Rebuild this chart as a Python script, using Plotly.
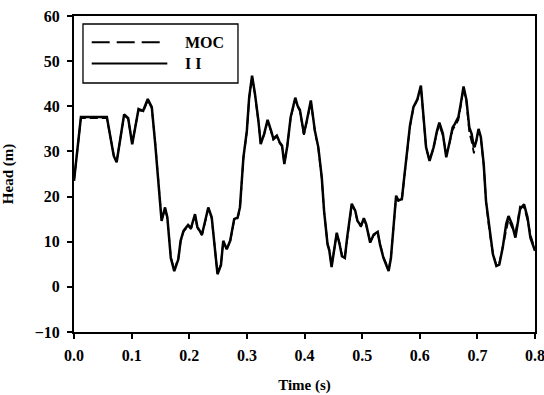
import plotly.graph_objects as go

time_s = [0.000, 0.012, 0.057, 0.069, 0.074, 0.087, 0.094, 0.101, 0.112, 0.120,
          0.128, 0.135, 0.141, 0.152, 0.158, 0.162, 0.168, 0.174, 0.181, 0.185,
          0.190, 0.198, 0.203, 0.210, 0.214, 0.222, 0.226, 0.233, 0.239, 0.244,
          0.249, 0.255, 0.259, 0.265, 0.271, 0.278, 0.284, 0.288, 0.294, 0.300,
          0.304, 0.309, 0.314, 0.320, 0.324, 0.330, 0.336, 0.342, 0.346, 0.352,
          0.357, 0.361, 0.365, 0.370, 0.376, 0.384, 0.388, 0.392, 0.399, 0.404,
          0.411, 0.418, 0.424, 0.430, 0.434, 0.440, 0.443, 0.447, 0.451, 0.456,
          0.461, 0.465, 0.470, 0.474, 0.482, 0.488, 0.492, 0.498, 0.503, 0.507,
          0.514, 0.520, 0.527, 0.531, 0.537, 0.542, 0.546, 0.550, 0.555, 0.559,
          0.563, 0.569, 0.573, 0.578, 0.583, 0.589, 0.596, 0.602, 0.606, 0.611,
          0.617, 0.624, 0.630, 0.634, 0.640, 0.646, 0.652, 0.657, 0.661, 0.667,
          0.671, 0.676, 0.681, 0.686, 0.690, 0.694, 0.698, 0.702, 0.706, 0.711,
          0.715, 0.721, 0.727, 0.733, 0.738, 0.744, 0.750, 0.754, 0.760, 0.766,
          0.770, 0.774, 0.781, 0.787, 0.792, 0.798, 0.800]

head_ii = [23.5, 37.6, 37.6, 29.0, 27.6, 38.2, 37.4, 31.6, 39.4, 39.0,
           41.6, 39.8, 31.6, 14.6, 17.6, 15.4, 6.4, 3.5, 6.1, 10.2,
           12.4, 13.7, 13.0, 16.1, 13.3, 11.6, 13.7, 17.6, 15.4, 9.4,
           2.8, 4.8, 10.2, 8.3, 10.2, 15.0, 15.4, 17.6, 28.7, 34.6,
           42.0, 46.8, 42.8, 36.8, 31.6, 33.9, 37.0, 34.6, 32.8, 33.5,
           32.0, 31.3, 27.2, 31.1, 37.6, 41.9, 40.1, 39.2, 33.9, 36.8,
           41.3, 34.6, 30.9, 24.2, 16.8, 9.4, 8.1, 4.4, 8.1, 12.0,
           9.4, 6.8, 6.4, 10.9, 18.4, 16.9, 14.6, 13.5, 15.2, 13.9,
           9.8, 11.6, 12.2, 9.4, 6.4, 4.9, 3.5, 6.4, 13.9, 20.2,
           19.1, 19.5, 24.2, 30.2, 35.7, 39.8, 41.6, 44.6, 39.0, 30.9,
           27.9, 30.9, 34.6, 36.4, 34.0, 28.7, 32.2, 35.3, 36.1, 37.6,
           40.4, 44.4, 41.4, 35.3, 33.9, 30.9, 32.2, 35.0, 33.2, 27.2,
           19.0, 12.4, 7.2, 4.6, 4.9, 8.7, 13.9, 15.7, 13.9, 10.9,
           13.9, 17.2, 18.3, 15.4, 10.9, 8.3, 8.0]

head_moc = [23.5, 37.4, 37.4, 29.2, 27.8, 38.0, 37.2, 31.8, 39.2, 38.8,
            41.3, 39.6, 31.8, 14.8, 17.3, 15.2, 6.6, 3.8, 6.3, 10.0,
            12.2, 13.5, 12.8, 15.8, 13.1, 11.4, 13.5, 17.3, 15.2, 9.6,
            3.0, 5.0, 10.0, 8.5, 10.0, 14.8, 15.2, 17.4, 28.5, 34.4,
            41.8, 46.5, 42.6, 36.6, 31.8, 33.7, 36.8, 34.4, 32.6, 33.3,
            31.8, 31.1, 27.4, 31.0, 37.4, 41.6, 39.9, 39.0, 33.7, 36.6,
            41.0, 34.4, 30.7, 24.0, 16.6, 9.6, 8.3, 4.6, 8.3, 11.8,
            9.6, 7.0, 6.6, 10.7, 18.1, 16.7, 14.4, 13.3, 15.0, 13.7,
            10.0, 11.4, 12.0, 9.6, 6.6, 5.1, 3.8, 6.6, 13.7, 20.0,
            18.9, 19.3, 24.0, 30.0, 35.5, 39.6, 41.4, 44.3, 38.8, 30.7,
            28.1, 30.7, 34.4, 35.8, 33.6, 29.4, 32.0, 34.8, 35.6, 37.0,
            40.0, 44.0, 41.0, 34.2, 32.2, 29.6, 32.4, 34.6, 33.0, 27.0,
            18.8, 12.2, 7.4, 4.8, 5.2, 8.9, 13.2, 14.9, 13.2, 12.0,
            14.6, 17.8, 17.6, 14.8, 11.6, 8.6, 8.2]

x_ticks = [0.0, 0.1, 0.2, 0.3, 0.4, 0.5, 0.6, 0.7, 0.8]
y_ticks = [-10, 0, 10, 20, 30, 40, 50, 60]

FONT = "Liberation Serif"

fig = go.Figure()
fig.add_trace(go.Scatter(x=time_s, y=head_ii, mode="lines", name="I I",
                         line=dict(color="black", width=2.5), showlegend=False))
fig.add_trace(go.Scatter(x=time_s, y=head_moc, mode="lines", name="MOC",
                         line=dict(color="black", width=1.8, dash="8px,4px"),
                         showlegend=False))

# legend drawn in paper coordinates
shapes = [
    dict(type="rect", xref="paper", yref="paper", x0=0.0195, x1=0.3557,
         y0=0.788, y1=0.9747, line=dict(color="black", width=1.3),
         fillcolor="white", layer="above"),
    dict(type="line", xref="paper", yref="paper", x0=0.0384, x1=0.1866,
         y0=0.9168, y1=0.9168, line=dict(color="black", width=2, dash="18px,7px"),
         layer="above"),
    dict(type="line", xref="paper", yref="paper", x0=0.0384, x1=0.2024,
         y0=0.850, y1=0.850, line=dict(color="black", width=2), layer="above"),
]
annotations = [
    dict(text="MOC", xref="paper", yref="paper", x=0.2365, y=0.9168,
         xanchor="left", yanchor="middle", showarrow=False,
         font=dict(family=FONT, size=16, color="black", weight="bold")),
    dict(text="I I", xref="paper", yref="paper", x=0.2365, y=0.850,
         xanchor="left", yanchor="middle", showarrow=False,
         font=dict(family=FONT, size=16, color="black", weight="bold")),
]

axis_common = dict(showline=True, linecolor="black", linewidth=2, mirror=True,
                   ticks="outside", ticklen=5, tickwidth=1.5, tickcolor="black",
                   showgrid=False, zeroline=False, automargin=False,
                   ticklabeloverflow="allow",
                   tickfont=dict(family=FONT, size=16, color="black", weight="bold"))

fig.update_layout(
    width=544, height=395,
    margin=dict(l=74, r=9, t=16, b=63),
    paper_bgcolor="white", plot_bgcolor="white",
    shapes=shapes, annotations=annotations,
    xaxis=dict(range=[0, 0.8], tickvals=x_ticks,
               ticktext=[f"{v:.1f}" for v in x_ticks],
               ticklabelstandoff=3,
               title=dict(text="Time (s)", standoff=16,
                          font=dict(family=FONT, size=15, color="black", weight="bold")),
               **axis_common),
    yaxis=dict(range=[-10, 60], tickvals=y_ticks,
               ticklabelstandoff=4,
               title=dict(text="Head (m)", standoff=17,
                          font=dict(family=FONT, size=15, color="black", weight="bold")),
               **axis_common),
)

fig.write_html("out.html",
               config={"displayModeBar": False},
               post_script="document.body.style.margin='0';document.body.style.overflow='hidden';")
